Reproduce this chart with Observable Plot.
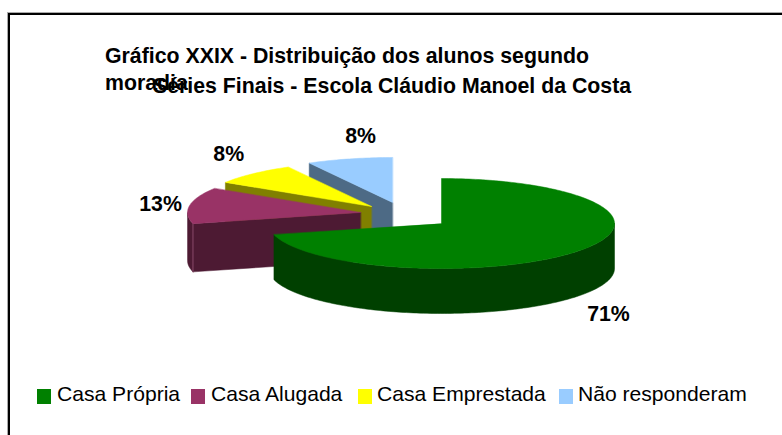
<!DOCTYPE html>
<html lang="pt">
<head>
<meta charset="utf-8">
<script src="https://cdn.jsdelivr.net/npm/d3@7"></script>
<script src="https://cdn.jsdelivr.net/npm/@observablehq/plot@0.6"></script>
<style>
html,body{margin:0;padding:0;background:#fff;width:782px;height:435px;overflow:hidden;font-family:"Liberation Sans",Arial,sans-serif;color:#000}
#wrap{position:relative;width:782px;height:435px;overflow:hidden}
#frame{position:absolute;left:8px;top:13px;right:-5px;bottom:-5px;border-left:2px solid #000;border-top:2px solid #000;box-shadow:-1px -1px 0 #aaa}
.t{position:absolute;font-weight:bold;font-size:21.3px;white-space:nowrap;line-height:1}
.lg{position:absolute;font-size:21.1px;white-space:nowrap;line-height:1}
.sw{position:absolute;width:14px;height:15px}
#chart{position:absolute;left:0;top:0}
</style>
</head>
<body>
<div id="wrap">
<div id="chart"></div>
<div id="frame"></div>
</div>
<script>
// Data
const titleLines = ["Gráfico XXIX - Distribuição dos alunos segundo", "moradia", "Séries Finais - Escola Cláudio Manoel da Costa"];
const categories = ["Casa Própria", "Casa Alugada", "Casa Emprestada", "Não responderam"];
const values = [71, 13, 8, 8];

// Styles and layout (pie units: radius = 1, thickness = 1)
const faceColors = ["#008000", "#993366", "#FFFF00", "#99CCFF"];
const wallColors = ["#004000", "#4D1A33", "#808000", "#4D6A85"];
const explodeX = [0, -0.468, -0.405, -0.283];
const explodeY = [0, 0.244, 0.378, 0.467];
const wallDepth = [1, 1.07, 1, 1];
const labelX = [0.965, -1.624, -1.23, -0.468];
const labelY = [-2.02, 0.42, 1.54, 1.94];
const legendSwatchX = [37, 191, 358, 559];
const legendTextX = [57, 211, 377, 578];
const titlePos = [[105, 46], [105, 73], [153, 76]];

const rx = 173, ry = 45, cx = 441, cy = 223, W = 782, H = 435;
const total = d3.sum(values);
let acc = 0;
const slices = values.map((v, i) => {
  const a0 = acc / total * 2 * Math.PI;
  acc += v;
  return {i, a0, a1: acc / total * 2 * Math.PI, ox: explodeX[i], oy: explodeY[i], d: wallDepth[i]};
});
const pt = (s, a, r = 1, dz = 0) => ({x: s.ox + r * Math.sin(a), y: s.oy + r * Math.cos(a) - dz});
const arc = (s, a0, a1, dz = 0) => {
  const n = Math.max(2, Math.ceil((a1 - a0) / 0.02));
  return d3.range(n + 1).map(k => pt(s, a0 + (a1 - a0) * k / n, 1, dz));
};
const poly = (points, color) => Plot.line(points, {x: "x", y: "y", curve: "linear-closed", fill: color, stroke: color, strokeWidth: 0.5});

const marks = [];
[...slices].reverse().forEach(s => {
  const wall = wallColors[s.i], face = faceColors[s.i];
  // outer rim, only the part turned to the viewer
  const f0 = Math.max(s.a0, Math.PI / 2), f1 = Math.min(s.a1, 3 * Math.PI / 2);
  if (f1 > f0) {
    marks.push(poly([...arc(s, f0, f1), ...arc(s, f0, f1, s.d).reverse()], wall));
  }
  // radial wall on the leading edge of the slice
  if (s.i > 0) {
    marks.push(poly([pt(s, 0, 0), pt(s, s.a0), pt(s, s.a0, 1, s.d), pt(s, 0, 0, s.d)], wall));
    if (f1 > f0) {
      marks.push(Plot.line([pt(s, s.a0), pt(s, s.a0, 1, s.d)], {x: "x", y: "y", stroke: "#8A4A6A", strokeWidth: 1}));
    }
  }
  // top face
  marks.push(poly([pt(s, 0, 0), ...arc(s, s.a0, s.a1)], face));
});
marks.push(Plot.text(values.map((v, i) => ({x: labelX[i], y: labelY[i], t: v + "%"})), {
  x: "x", y: "y", text: "t", fontWeight: "bold", fontSize: 21.3, fontFamily: "Liberation Sans, Arial, sans-serif", fill: "#000"
}));

const plot = Plot.plot({
  width: W, height: H, margin: 0, axis: null,
  style: {background: "transparent"},
  x: {type: "linear", domain: [-cx / rx, (W - cx) / rx], range: [0, W]},
  y: {type: "linear", domain: [(cy - H) / ry, cy / ry], range: [H, 0]},
  marks
});
document.getElementById("chart").appendChild(plot);

const wrap = document.getElementById("wrap");
titleLines.forEach((t, i) => {
  const d = document.createElement("div");
  d.className = "t"; d.textContent = t;
  d.style.left = titlePos[i][0] + "px"; d.style.top = titlePos[i][1] + "px";
  wrap.appendChild(d);
});
categories.forEach((c, i) => {
  const s = document.createElement("div");
  s.className = "sw"; s.style.left = legendSwatchX[i] + "px"; s.style.top = "389px"; s.style.background = faceColors[i];
  wrap.appendChild(s);
  const d = document.createElement("div");
  d.className = "lg"; d.textContent = c;
  d.style.left = legendTextX[i] + "px"; d.style.top = "383px";
  wrap.appendChild(d);
});
</script>
</body>
</html>
